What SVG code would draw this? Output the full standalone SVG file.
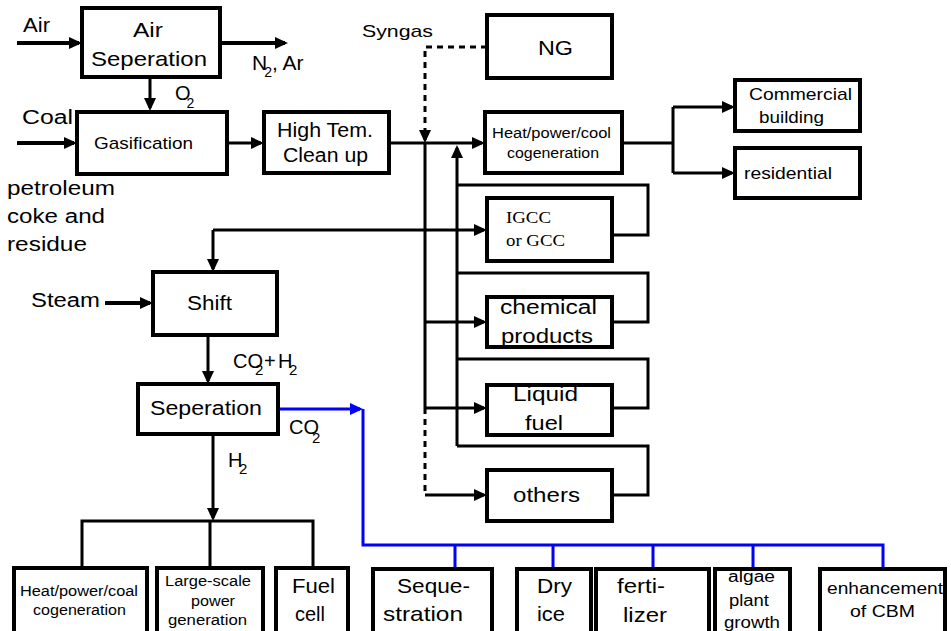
<svg xmlns="http://www.w3.org/2000/svg" width="951" height="631" viewBox="0 0 951 631">
<style>
text{font-family:"Liberation Sans",Arial,sans-serif;fill:#000}
.serif{font-family:"Liberation Serif","Times New Roman",serif}
.box{fill:#fff;stroke:#000;stroke-width:4}
.c{fill:none;stroke:#000;stroke-width:3}
.t{stroke-width:4}
.d{stroke-dasharray:6,5}
.b{fill:none;stroke:#0000ff;stroke-width:3}
.ar{marker-end:url(#a)}
.arb{marker-end:url(#ab)}
</style>
<defs>
<marker id="a" viewBox="0 0 13 12" refX="10" refY="6" markerWidth="13" markerHeight="12" markerUnits="userSpaceOnUse" orient="auto"><path d="M0,0L13,6L0,12z" fill="#000"/></marker>
<marker id="ab" viewBox="0 0 13 12" refX="10" refY="6" markerWidth="13" markerHeight="12" markerUnits="userSpaceOnUse" orient="auto"><path d="M0,0L13,6L0,12z" fill="#0000ff"/></marker>
</defs>
<rect width="951" height="631" fill="#fff"/>

<g id="connectors">
<path class="c t ar" d="M17,43H79"/>
<path class="c t ar" d="M220,43H285"/>
<path class="c ar" d="M150,77V108"/>
<path class="c t ar" d="M17,143H74"/>
<path class="c ar" d="M227,143H261"/>
<path class="c ar" d="M389,143H482"/>
<path class="c d ar" d="M487,47H425V140"/>
<path class="c" d="M425,143V408"/>
<path class="c d" d="M425,408V495"/>
<path class="c ar" d="M425,322H484"/>
<path class="c ar" d="M425,408H484"/>
<path class="c ar" d="M425,495H484"/>
<path class="c ar" d="M457,446V148"/>
<path class="c" d="M612,235H648V185H457"/>
<path class="c" d="M612,322H648V273H457"/>
<path class="c" d="M612,408H648V359H457"/>
<path class="c" d="M612,495H648V446H457"/>
<path class="c" d="M622,143H673M673,107V173"/>
<path class="c ar" d="M673,107H732"/>
<path class="c ar" d="M673,173H732"/>
<path class="c ar" d="M213,230H484"/>
<path class="c ar" d="M213,230V269"/>
<path class="c t ar" d="M105,303H150"/>
<path class="c ar" d="M208,335V381"/>
<path class="c ar" d="M213,434V518"/>
<path class="c" d="M82,568V521H313V568M210,521V568"/>
<path class="b arb" d="M278,409H360"/>
<path class="b" d="M363,409V545H883V569M455,545V569M553,545V569M653,545V569M753,545V569"/>
</g>

<g id="labels">
<text x="23" y="32" font-size="20" textLength="27" lengthAdjust="spacingAndGlyphs">Air</text>
<text x="252" y="70" font-size="21">N<tspan font-size="14" dx="-3" dy="7">2</tspan><tspan dy="-7">, Ar</tspan></text>
<text x="175" y="100" font-size="20">O<tspan font-size="14" dx="-4" dy="8">2</tspan></text>
<text x="22" y="124" font-size="20" textLength="51" lengthAdjust="spacingAndGlyphs">Coal</text>
<text x="7" y="195" font-size="20" textLength="108" lengthAdjust="spacingAndGlyphs">petroleum</text>
<text x="7" y="223" font-size="20" textLength="98" lengthAdjust="spacingAndGlyphs">coke and</text>
<text x="7" y="251" font-size="20" textLength="80" lengthAdjust="spacingAndGlyphs">residue</text>
<text x="362" y="37" font-size="17" textLength="71" lengthAdjust="spacingAndGlyphs">Syngas</text>
<text x="31" y="307" font-size="20" textLength="69" lengthAdjust="spacingAndGlyphs">Steam</text>
<text y="368" font-size="20"><tspan x="233">CO</tspan><tspan x="255" dy="7" font-size="15">2</tspan><tspan x="264" dy="-7">+</tspan><tspan x="278">H</tspan><tspan x="289" dy="7" font-size="15">2</tspan></text>
<text y="434" font-size="20"><tspan x="289">CO</tspan><tspan x="312" dy="9" font-size="15">2</tspan></text>
<text y="467" font-size="20"><tspan x="228">H</tspan><tspan x="239" dy="7" font-size="15">2</tspan></text>
</g>

<g id="air-separation">
<rect class="box" x="82" y="8" width="138" height="69"/>
<text x="133" y="37" font-size="20" textLength="30" lengthAdjust="spacingAndGlyphs">Air</text>
<text x="91" y="66" font-size="21" textLength="116" lengthAdjust="spacingAndGlyphs">Seperation</text>
</g>
<g id="gasification">
<rect class="box" x="77" y="112" width="150" height="62"/>
<text x="94" y="149" font-size="17" textLength="99" lengthAdjust="spacingAndGlyphs">Gasification</text>
</g>
<g id="high-tem">
<rect class="box" x="264" y="112" width="125" height="61"/>
<text x="277" y="137" font-size="20" textLength="96" lengthAdjust="spacingAndGlyphs">High Tem.</text>
<text x="283" y="162" font-size="20" textLength="85" lengthAdjust="spacingAndGlyphs">Clean up</text>
</g>
<g id="ng">
<rect class="box" x="487" y="15" width="125" height="63"/>
<text x="538" y="55" font-size="21" textLength="35" lengthAdjust="spacingAndGlyphs">NG</text>
</g>
<g id="heat-power-cool">
<rect class="box" x="485" y="112" width="137" height="61"/>
<text x="492" y="138" font-size="14" textLength="119" lengthAdjust="spacingAndGlyphs">Heat/power/cool</text>
<text x="507" y="158" font-size="14" textLength="92" lengthAdjust="spacingAndGlyphs">cogeneration</text>
</g>
<g id="commercial">
<rect class="box" x="735" y="80" width="125" height="51"/>
<text x="749" y="100" font-size="17" textLength="103" lengthAdjust="spacingAndGlyphs">Commercial</text>
<text x="759" y="123" font-size="17" textLength="65" lengthAdjust="spacingAndGlyphs">building</text>
</g>
<g id="residential">
<rect class="box" x="735" y="148" width="125" height="50"/>
<text x="744" y="179" font-size="17" textLength="88" lengthAdjust="spacingAndGlyphs">residential</text>
</g>
<g id="igcc">
<rect class="box" x="487" y="198" width="125" height="63"/>
<text class="serif" x="506" y="223" font-size="16" textLength="45" lengthAdjust="spacingAndGlyphs">IGCC</text>
<text class="serif" x="506" y="246" font-size="16" textLength="59" lengthAdjust="spacingAndGlyphs">or GCC</text>
</g>
<g id="chemical">
<rect class="box" x="487" y="297" width="125" height="50"/>
<text x="500" y="314" font-size="20" textLength="97" lengthAdjust="spacingAndGlyphs">chemical</text>
<text x="501" y="343" font-size="20" textLength="92" lengthAdjust="spacingAndGlyphs">products</text>
</g>
<g id="liquid">
<rect class="box" x="487" y="385" width="125" height="50"/>
<text x="513" y="401" font-size="20" textLength="65" lengthAdjust="spacingAndGlyphs">Liquid</text>
<text x="525" y="430" font-size="20" textLength="38" lengthAdjust="spacingAndGlyphs">fuel</text>
</g>
<g id="others">
<rect class="box" x="487" y="470" width="125" height="51"/>
<text x="513" y="502" font-size="20" textLength="67" lengthAdjust="spacingAndGlyphs">others</text>
</g>
<g id="shift">
<rect class="box" x="153" y="272" width="124" height="63"/>
<text x="187" y="310" font-size="20" textLength="45" lengthAdjust="spacingAndGlyphs">Shift</text>
</g>
<g id="separation">
<rect class="box" x="138" y="384" width="140" height="50"/>
<text x="150" y="415" font-size="20" textLength="112" lengthAdjust="spacingAndGlyphs">Seperation</text>
</g>
<g id="heat-power-coal">
<rect class="box" x="14" y="568" width="133" height="72"/>
<text x="20" y="596" font-size="14" textLength="118" lengthAdjust="spacingAndGlyphs">Heat/power/coal</text>
<text x="33" y="615" font-size="14" textLength="93" lengthAdjust="spacingAndGlyphs">cogeneration</text>
</g>
<g id="large-scale">
<rect class="box" x="157" y="568" width="106" height="72"/>
<text x="165" y="586" font-size="14" textLength="86" lengthAdjust="spacingAndGlyphs">Large-scale</text>
<text x="191" y="606" font-size="14" textLength="44" lengthAdjust="spacingAndGlyphs">power</text>
<text x="168" y="625" font-size="14" textLength="79" lengthAdjust="spacingAndGlyphs">generation</text>
</g>
<g id="fuel-cell">
<rect class="box" x="276" y="568" width="72" height="72"/>
<text x="292" y="593" font-size="21" textLength="43" lengthAdjust="spacingAndGlyphs">Fuel</text>
<text x="295" y="621" font-size="21" textLength="30" lengthAdjust="spacingAndGlyphs">cell</text>
</g>
<g id="sequestration">
<rect class="box" x="373" y="569" width="119" height="72"/>
<text x="397" y="593" font-size="21" textLength="73" lengthAdjust="spacingAndGlyphs">Seque-</text>
<text x="383" y="621" font-size="21" textLength="80" lengthAdjust="spacingAndGlyphs">stration</text>
</g>
<g id="dry-ice">
<rect class="box" x="517" y="569" width="74" height="72"/>
<text x="537" y="593" font-size="21" textLength="35" lengthAdjust="spacingAndGlyphs">Dry</text>
<text x="537" y="621" font-size="21" textLength="28" lengthAdjust="spacingAndGlyphs">ice</text>
</g>
<g id="fertilizer">
<rect class="box" x="596" y="569" width="113" height="72"/>
<text x="617" y="593" font-size="21" textLength="48" lengthAdjust="spacingAndGlyphs">ferti-</text>
<text x="623" y="622" font-size="21" textLength="44" lengthAdjust="spacingAndGlyphs">lizer</text>
</g>
<g id="algae">
<rect class="box" x="715" y="569" width="75" height="72"/>
<text x="728" y="582" font-size="16" textLength="47" lengthAdjust="spacingAndGlyphs">algae</text>
<text x="729" y="606" font-size="16" textLength="40" lengthAdjust="spacingAndGlyphs">plant</text>
<text x="724" y="628" font-size="16" textLength="56" lengthAdjust="spacingAndGlyphs">growth</text>
</g>
<g id="cbm">
<rect class="box" x="820" y="569" width="125" height="72"/>
<text x="827" y="594" font-size="16" textLength="116" lengthAdjust="spacingAndGlyphs">enhancement</text>
<text x="850" y="617" font-size="16" textLength="65" lengthAdjust="spacingAndGlyphs">of CBM</text>
</g>
</svg>
